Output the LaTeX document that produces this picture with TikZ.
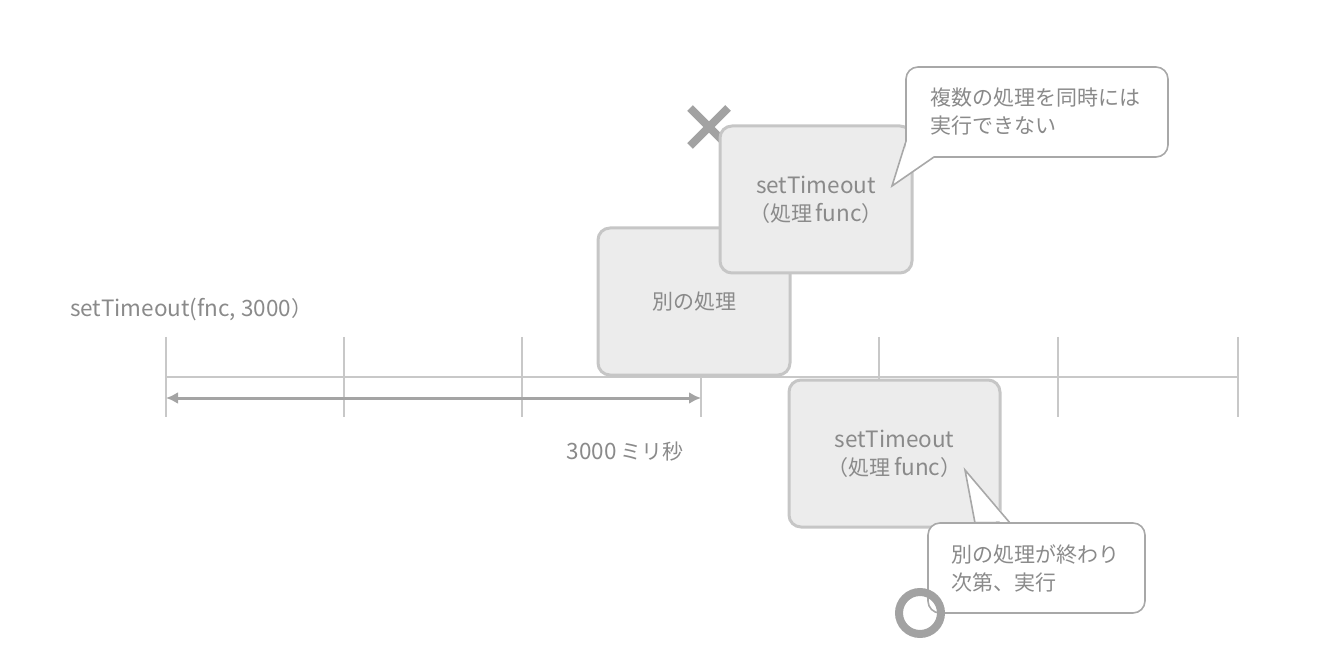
\documentclass[tikz,border=0pt]{standalone}
\usepackage{fontspec}
\usetikzlibrary{arrows.meta}
\setmainfont{Noto Sans CJK JP}
\definecolor{boxfill}{HTML}{ECECEC}
\definecolor{boxline}{HTML}{C6C6C6}
\definecolor{txtgray}{HTML}{8A8A8A}
\definecolor{axisgray}{HTML}{C8C8C8}
\definecolor{arrgray}{HTML}{A4A4A4}
\definecolor{callline}{HTML}{A8A8A8}
\definecolor{markgray}{HTML}{A2A2A2}
\newcommand{\latn}[1]{{\fontsize{22.5}{28}\selectfont #1}}
\begin{document}
\begin{tikzpicture}[x=1pt,y=-1pt,
  procbox/.style={draw=boxline,line width=3pt,fill=boxfill,rounded corners=12pt,
    text=txtgray,font=\fontsize{21}{28}\selectfont,align=center,inner sep=0pt},
  callbox/.style={draw=callline,line width=1.6pt,fill=white,rounded corners=12pt,
    text=txtgray,font=\fontsize{21}{28}\selectfont,align=left,inner sep=0pt,
    text width=#1},
  tailfill/.style={fill=white,draw=none},
  tailline/.style={draw=callline,line width=1.6pt,line join=miter},
  tickline/.style={draw=axisgray,line width=2pt},
  markline/.style={draw=markgray,line width=8pt},
  lbl/.style={text=txtgray,font=\fontsize{21}{28}\selectfont,inner sep=0pt}]
\useasboundingbox (0,0) rectangle (1320,652);
% axis
\coordinate (a0) at (166,377);
\coordinate (a1) at (1238,377);
\draw[tickline] (a0) -- (a1);
\foreach \x/\n in {166/t1,344/t2,522/t3,701/t4,879/t5,1058/t6,1238/t7}{
  \coordinate (\n top) at (\x,337);
  \coordinate (\n bot) at (\x,417);
  \draw[tickline] (\n top) -- (\n bot);
}
% double arrow
\coordinate (d0) at (166,398);
\coordinate (d1) at (701,398);
\draw[draw=arrgray,line width=3pt,{Latex[length=12pt,width=12pt]}-{Latex[length=12pt,width=12pt]}] (d0) -- (d1);
% labels
\node[lbl,anchor=west] (call) at (70,310) {\latn{setTimeout(fnc, 3000}）};
\node[lbl] (ms) at (625,452) {\latn{3000}\,ミリ秒};
% boxes
\node[procbox,minimum width=192pt,minimum height=147pt] (other) at (694,301.5) {別の処理};
% X mark
\coordinate (x1) at (690,108);
\coordinate (x2) at (728,146);
\coordinate (x3) at (728,108);
\coordinate (x4) at (690,146);
\draw[markline] (x1) -- (x2) (x3) -- (x4);
\node[procbox,minimum width=192pt,minimum height=147pt] (top) at (816,199.5) {\latn{setTimeout}\\（処理\,\latn{func}）};
\node[procbox,minimum width=211pt,minimum height=147pt] (bot) at (894.5,453.5) {\latn{setTimeout}\\（処理\,\latn{func}）};
% top callout
\node[callbox=214pt,minimum width=262pt,minimum height=90pt] (c1) at (1037,112) {複数の処理を同時には\\実行できない};
\coordinate (c1a) at (906,141);
\coordinate (c1tip) at (892,186);
\coordinate (c1b) at (934,157);
\fill[tailfill] ([xshift=-1pt]c1a) -- (c1tip) -- ([yshift=1pt]c1b) -- ([xshift=1pt,yshift=1pt]c1.south west) -- cycle;
\fill[white] (c1a) -- (c1b) -- (c1.south west) -- cycle;
\draw[tailline] (c1a) -- (c1tip) -- (c1b);
% bottom callout
\node[callbox=170pt,minimum width=217pt,minimum height=90pt] (c2) at (1036.5,568) {別の処理が終わり\\次第、実行};
\coordinate (c2a) at (975,523);
\coordinate (c2tip) at (965,470);
\coordinate (c2b) at (1010,523);
\fill[tailfill] ([yshift=2pt]c2a) -- (c2tip) -- ([yshift=2pt]c2b) -- cycle;
\draw[tailline] (c2a) -- (c2tip) -- (c2b);
% O mark
\node[draw=markgray,line width=8pt,circle,minimum size=42pt,inner sep=0pt] (omark) at (920,613) {};
\end{tikzpicture}
\end{document}
